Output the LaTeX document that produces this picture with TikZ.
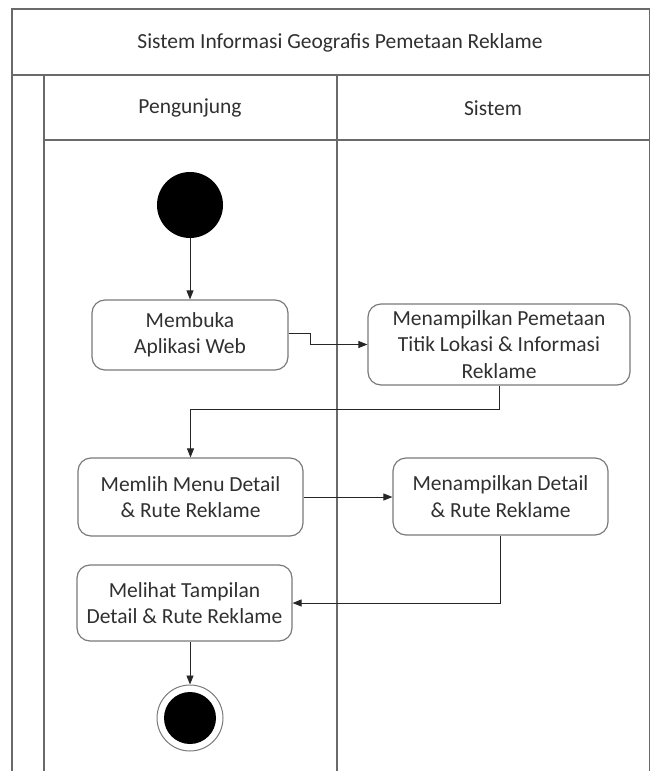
\documentclass[tikz,border=0pt]{standalone}
\usepackage{fontspec}
\setmainfont{Carlito}
\usetikzlibrary{arrows.meta,calc}
\definecolor{frameline}{HTML}{6A6A6A}
\definecolor{boxline}{HTML}{7A7A7A}
\definecolor{ink}{HTML}{303030}
\tikzset{
  frame/.style={draw=frameline, line width=1.3pt},
  action/.style={draw=boxline, line width=1.2pt, rounded corners=13pt, align=center,
    text=ink, font=\fontsize{21.5}{26.5}\selectfont, inner sep=0pt},
  flow/.style={draw=black!85, line width=0.8pt, -{Triangle[length=9pt,width=7pt]}},
  label/.style={text=ink, font=\fontsize{21.5}{26}\selectfont},
}
\begin{document}
\begin{tikzpicture}[x=1pt,y=-1pt]
\useasboundingbox (0,0) rectangle (651,771);
% swimlane frame
\draw[frame] (12,771) -- (12,9) -- (649.5,9) -- (649.5,771);
\draw[frame] (12,75) -- (649.5,75);
\draw[frame] (44,75) -- (44,771);
\draw[frame] (44,140) -- (649.5,140);
\draw[frame] (337,75) -- (337,771);
\node[label] (title) at (340,43) {Sistem Informasi Geografis Pemetaan Reklame};
\node[label] (lane1) at (190,108) {Pengunjung};
\node[label] (lane2) at (493,108) {Sistem};
% initial and final states
\node[circle, fill=black, minimum size=66pt, inner sep=0pt] (start) at (190,205) {};
\node[circle, draw=boxline, line width=1pt, fill=white, minimum size=66pt, inner sep=0pt] (end) at (190,718) {};
\node[circle, fill=black, minimum size=52pt, inner sep=0pt] (endcore) at (190,718) {};
% actions
\node[action, minimum width=196pt, minimum height=70pt] (membuka) at (190,335) {Membuka\\Aplikasi Web};
\node[action, minimum width=262pt, minimum height=81pt] (peta) at (499,344.5) {Menampilkan Pemetaan\\Titik Lokasi \& Informasi\\Reklame};
\node[action, minimum width=225pt, minimum height=78pt] (memilih) at (190.5,497) {Memlih Menu Detail\\\& Rute Reklame};
\node[action, minimum width=215pt, minimum height=77pt] (detail) at (500.5,496.5) {Menampilkan Detail\\\& Rute Reklame};
\node[action, minimum width=215pt, minimum height=76pt] (melihat) at (184.5,603) {Melihat Tampilan\\Detail \& Rute Reklame};
% control flow
\draw[flow] (start.south) -- (membuka.north -| start.south);
\draw[flow] ($(membuka.east)+(0,-2)$) -- ++(22,0) |- (peta.west);
\draw[flow] (peta.south) -- ++(0,24) -| (memilih.north);
\draw[flow] (memilih.east) -- (memilih.east -| detail.west);
\draw[flow] (detail.south) |- (melihat.east);
\draw[flow] (melihat.south -| end.north) -- (end.north);
\end{tikzpicture}
\end{document}
